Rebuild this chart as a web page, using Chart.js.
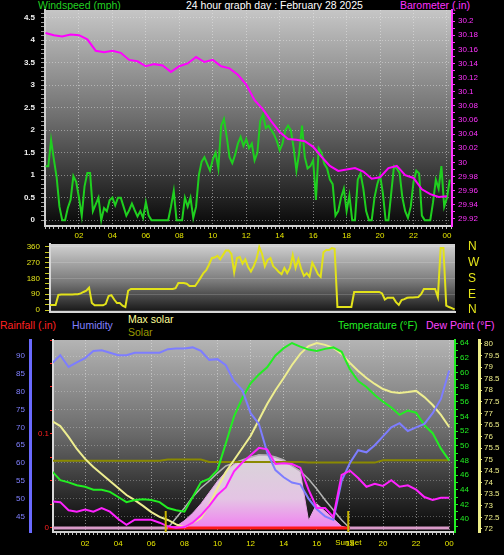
<!DOCTYPE html>
<html>
<head>
<meta charset="utf-8">
<script src="https://cdn.jsdelivr.net/npm/chart.js@4"></script>
<style>
html, body { margin: 0; padding: 0; background: #000; width: 504px; height: 555px; overflow: hidden; }
#wrap { position: relative; width: 504px; height: 555px; font-family: "Liberation Sans", Arial, sans-serif; }
canvas { position: absolute; left: 0; }
.t { position: absolute; font-size: 10.5px; line-height: 12px; white-space: nowrap; }
</style>
</head>
<body>
<div id="wrap">
  <span class="t" style="left:38px;top:-1px;color:#22d022">Windspeed (mph)</span>
  <span class="t" style="left:186px;top:-1px;color:#ffffff">24 hour graph day : February 28 2025</span>
  <span class="t" style="left:400px;top:-1px;color:#ff33ff">Barometer (.in)</span>
  <span class="t" style="left:0px;top:319px;color:#ff2020">Rainfall (.in)</span>
  <span class="t" style="left:72px;top:319px;color:#8080ff">Humidity</span>
  <span class="t" style="left:128px;top:313px;color:#ffff99">Max solar</span>
  <span class="t" style="left:128px;top:326px;color:#999900">Solar</span>
  <span class="t" style="left:338px;top:319px;color:#22ee22">Temperature (°F)</span>
  <span class="t" style="left:426px;top:319px;color:#ff44ff">Dew Point (°F)</span>
  <canvas id="c1" width="504" height="240" style="top:0px"></canvas>
  <canvas id="c2" width="504" height="78" style="top:240px"></canvas>
  <canvas id="c3" width="504" height="237" style="top:318px"></canvas>
</div>
<script>
// time stamps (hours of the day)
const hours10 = Array.from({length: 146}, (_, i) => i / 6);
const hours30 = Array.from({length: 49}, (_, i) => i / 2);

// top panel
const windSpeed = [1.2, 1.2, 1.78, 1.35, 0.95, 0.3, 0, 0, 0.27, 0.45,
  0.98, 0.85, 0.5, 0.1, 0.75, 1.05, 1.05, 0.2, 0.35, 0.5,
  0, 0.27, 0.2, 0.44, 0.5, 0.33, 0.5, 0.5, 0.3, 0.1,
  0.22, 0.37, 0.22, 0.08, 0.2, 0.05, 0.4, 0.1, 0, 0,
  0, 0, 0, 0, 0, 0.3, 0.65, 0, 0, 0,
  0.5, 0.3, 0.5, 0.05, 0.3, 1.0, 1.3, 1.4, 1.25, 1.1,
  1.35, 1.5, 1.15, 2.1, 2.25, 1.85, 1.4, 1.27, 1.45, 1.7,
  1.85, 1.65, 1.8, 1.6, 1.7, 1.33, 1.5, 2.2, 2.35, 2.05,
  2.1, 2.0, 1.9, 1.75, 1.55, 1.7, 2.0, 2.1, 2.0, 1.6,
  1.1, 1.5, 2.1, 1.4, 1.15, 1.2, 1.33, 0.45, 1.6, 1.5,
  1.25, 1.15, 0.9, 0.8, 0.1, 0.2, 0.5, 0.7, 0.2, 0.55,
  0, 0, 0.9, 1.04, 0.7, 0.2, 0, 0, 0.5, 0.8,
  1.0, 0.6, 0, 0, 0.6, 1.2, 1.15, 1.05, 0.5, 0.2,
  0.05, 0.3, 0.85, 1.1, 1.04, 0.1, 0, 0, 0, 0.4,
  0.9, 0.7, 1.2, 0.3, 0.5, 0.9];
const barometer = [30.183, 30.180, 30.178, 30.181, 30.180, 30.174, 30.158, 30.156, 30.158, 30.155,
  30.145, 30.143, 30.136, 30.139, 30.137, 30.128, 30.136, 30.140, 30.149, 30.142,
  30.145, 30.136, 30.133, 30.124, 30.110, 30.088, 30.075, 30.058, 30.043, 30.033,
  30.032, 30.030, 30.022, 30.008, 29.995, 29.988, 29.990, 29.992, 29.987, 29.977,
  29.979, 29.992, 29.995, 29.982, 29.978, 29.962, 29.955, 29.951, 29.952];

// middle panel
const windDir = [29, 29, 29, 86, 88, 88, 88, 88, 88, 90,
  90, 95, 103, 110, 128, 40, 27, 27, 27, 27,
  35, 80, 85, 60, 40, 40, 25, 17, 110, 120,
  120, 120, 120, 120, 120, 120, 120, 120, 120, 120,
  120, 120, 120, 120, 120, 125, 154, 154, 154, 150,
  137, 137, 137, 160, 185, 211, 228, 260, 297, 300,
  310, 290, 315, 340, 340, 320, 215, 297, 303, 265,
  290, 245, 220, 250, 290, 360, 320, 250, 286, 297,
  250, 235, 217, 205, 240, 211, 240, 314, 240, 290,
  235, 195, 210, 190, 270, 240, 205, 189, 330, 343,
  343, 354, 350, 17, 17, 17, 17, 17, 17, 103,
  103, 103, 103, 103, 103, 103, 103, 103, 103, 95,
  60, 70, 70, 70, 45, 29, 57, 62, 70, 72,
  72, 73, 74, 90, 120, 120, 120, 120, 120, 74,
  354, 354, 25, 17, 11, 3];
const compassTicks = [0, 90, 180, 270, 360];
const compassNames = ['N', 'E', 'S', 'W', 'N'];

// bottom panel
const humidity = [88, 90.3, 87, 88.3, 89.5, 91.5, 91.7, 91, 90.3, 90.3,
  91, 91, 91, 91, 92, 92.2, 92.2, 92.5, 91.5, 89,
  89.2, 87.5, 83, 80.5, 74, 71, 63, 58, 56, 54.5,
  54, 50, 47, 45, 44, 55, 60, 63.6, 63, 65,
  67.5, 70, 71.2, 69, 70, 71, 74, 78, 86];
const temperature = [46.5, 45.3, 45, 44.6, 44.4, 44, 44, 43.7, 43, 42.3,
  42.6, 42.7, 42.6, 42.3, 41.5, 41.2, 41, 43, 45, 45.5,
  46.7, 50.3, 54, 56.5, 58.5, 59.7, 60.7, 62.3, 63.3, 64,
  63.5, 63.1, 62.9, 63.2, 63.4, 62.8, 60.4, 58.8, 58, 56.9,
  56, 55.2, 54.2, 54.8, 54.5, 52.8, 51.7, 49.6, 48];
const dewPoint = [42.4, 42.3, 41.2, 41, 41.3, 41, 41.5, 41, 40, 39.2,
  39.9, 39.9, 39.9, 39.5, 39, 38.8, 38.9, 39.5, 40.5, 41.8,
  43.3, 44.3, 46.5, 47.7, 48.7, 49.7, 49.5, 47.5, 47.6, 47.5,
  47, 44, 41.5, 41.5, 40.3, 46, 46.6, 45.6, 44.4, 44.8,
  44.5, 45.3, 44.4, 44.6, 44, 43, 42.6, 42.9, 42.9];
const maxSolar = [76.67, 76.45, 75.98, 75.46, 75.03, 74.68, 74.38, 74.07, 73.77, 73.47,
  73.25, 73.0, 72.73, 72.52, 72.39, 72.2, 72.08, 72.26, 72.47, 73.04,
  73.77, 74.46, 74.98, 75.5, 76.02, 76.71, 77.4, 78.0, 78.53, 79.09,
  79.57, 79.91, 80.04, 79.96, 79.83, 79.57, 79.18, 78.83, 78.53, 78.27,
  78.05, 77.92, 77.88, 77.92, 77.97, 77.7, 77.36, 76.93, 76.41];
const solar = [74.95, 74.95, 74.95, 74.95, 74.95, 74.95, 74.95, 74.95, 74.95, 74.95,
  74.95, 74.95, 74.95, 74.95, 75.0, 75.0, 75.0, 75.0, 75.0, 74.9,
  74.9, 74.9, 74.9, 74.9, 74.9, 74.9, 74.9, 74.9, 74.9, 74.9,
  74.9, 74.87, 74.87, 74.87, 74.87, 74.87, 74.87, 74.87, 74.87, 74.87,
  74.97, 74.97, 74.97, 74.97, 74.97, 74.97, 74.97, 74.97, 74.97];
const solarCurve = [null, null, null, null, null, null, null, null, null, null,
  null, null, null, null, 1, 54, 108, 166, 214, 251,
  293, 331, 347, 363, 378, 389, 389, 378, 363, 331,
  304, 262, 208, 150, 97, 44, 0, null, null, null,
  null, null, null, null, null, null, null, null, null];
const solarRad = [null, null, null, null, null, null, null, null, null, null,
  null, null, null, null, 0, 10, 40, 80, 130, 190,
  250, 300, 340, 360, 375, 390, 385, 375, 360, 330,
  300, 40, 130, 90, 50, 10, 0, null, null, null,
  null, null, null, null, null, null, null, null, null];
const rainfall = [0, 0, 0, 0, 0, 0, 0, 0, 0, 0,
  0, 0, 0, 0, 0, 0, 0, 0, 0, 0,
  0, 0, 0, 0, 0, 0, 0, 0, 0, 0,
  0, 0, 0, 0, 0, 0, 0, 0, 0, 0,
  0, 0, 0, 0, 0, 0, 0, 0, 0];
const sunTimes = [6.87, 17.9];

// tick positions
const quarterTicks = Array.from({length: 98}, (_, i) => i / 4);
const windTicks = Array.from({length: 47}, (_, i) => i / 10);
const baroTicks = Array.from({length: 30}, (_, i) => +(29.92 + i / 100).toFixed(2));
const dirTicks = [0, 30, 60, 90, 120, 150, 180, 210, 240, 270, 300, 330, 360];
const humTicks = [45, 50, 55, 60, 65, 70, 75, 80, 85, 90];
const rainTicks = [0, 0.025, 0.05, 0.075, 0.1, 0.125, 0.15, 0.175, 0.2];
const tempTicks = Array.from({length: 26}, (_, i) => 39 + i);
const auxTicks = [72, 72.5, 73, 73.5, 74, 74.5, 75, 75.5, 76, 76.5, 77, 77.5, 78, 78.5, 79, 79.5, 80];

const pts = (xs, ys) => ys.map((v, i) => ({x: xs[i], y: v}));
const isStep = (v, s) => Math.abs(v / s - Math.round(v / s)) < 1e-6;
const isEvenHour = v => isStep(v, 2) && v > 0.5;
const hourLabel = v => isEvenHour(v) ? String(Math.round(v) % 24).padStart(2, '0') : '';
const setTicks = list => s => { s.ticks = list.filter(v => v >= s.min - 1e-9 && v <= s.max + 1e-9).map(value => ({value})); };
const fixW = w => s => { s.width = w; s.paddingTop = 0; s.paddingBottom = 0; };
const fixH = h => s => { s.height = h; s.paddingLeft = 0; s.paddingRight = 0; };

Chart.defaults.font.family = '"Liberation Sans", Arial, sans-serif';
Chart.defaults.font.size = 8;
Chart.defaults.animation = false;
Chart.defaults.responsive = false;
Chart.defaults.devicePixelRatio = 1;
Chart.defaults.plugins.legend.display = false;
Chart.defaults.plugins.tooltip.enabled = false;
Chart.defaults.elements.point.radius = 0;
Chart.defaults.elements.line.tension = 0;
Chart.defaults.elements.line.borderWidth = 2;

// grey gradient behind each plot area
Chart.register({
  id: 'plotBg',
  beforeDraw(chart, args, opts) {
    if (!opts.stops) return;
    const {ctx, chartArea: a} = chart;
    const g = ctx.createLinearGradient(0, a.top, 0, a.bottom);
    opts.stops.forEach(([p, c]) => g.addColorStop(p, c));
    ctx.save();
    ctx.fillStyle = g;
    ctx.fillRect(a.left, a.top, a.width, a.height);
    ctx.restore();
  }
});

function xAxis(min, max, h, pad) {
  return {
    type: 'linear', min, max,
    afterBuildTicks: setTicks(quarterTicks),
    ticks: {autoSkip: false, maxRotation: 0, color: '#e6e600', padding: pad, callback: hourLabel},
    grid: {color: c => c.tick && isEvenHour(c.tick.value) ? 'rgba(235,235,235,0.5)' : 'rgba(0,0,0,0)', tickColor: '#bdbdbd', tickLength: 3},
    border: {color: '#d0d0d0', width: 2, dash: [1, 2]},
    afterFit: fixH(h)
  };
}

new Chart(document.getElementById('c1'), {
  type: 'line',
  data: {datasets: [
    {data: pts(hours30, barometer), yAxisID: 'yBaro', borderColor: '#ff00ff'},
    {data: pts(hours10, windSpeed), yAxisID: 'yWind', borderColor: '#1fcf1f'}
  ]},
  options: {
    layout: {padding: {top: 10}},
    plugins: {plotBg: {stops: [[0, '#c6c6c6'], [0.5, '#6e6e6e'], [1, '#080808']]}},
    scales: {
      x: xAxis(-0.03, 24.3, 14, 2),
      yWind: {
        position: 'left', min: -0.13, max: 4.67,
        afterBuildTicks: setTicks(windTicks),
        ticks: {autoSkip: false, color: '#f0f0f0', font: {size: 8, weight: 'bold'}, padding: 6,
          callback: v => isStep(v, 0.5) ? String(+v.toFixed(1)) : ''},
        grid: {color: c => c.tick && isStep(c.tick.value, 0.5) ? 'rgba(235,235,235,0.45)' : 'rgba(0,0,0,0)', tickColor: '#9a9a9a', tickLength: 4},
        border: {color: '#d0d0d0', width: 2, dash: [1, 2]},
        afterFit: fixW(45)
      },
      yBaro: {
        position: 'right', min: 29.910, max: 30.2156,
        afterBuildTicks: setTicks(baroTicks),
        ticks: {autoSkip: false, color: '#ff33ff', padding: 3,
          callback: v => isStep(v, 0.02) ? String(+v.toFixed(2)) : ''},
        grid: {drawOnChartArea: false, tickColor: '#ff33ff', tickLength: 3},
        border: {color: '#ff33ff', width: 2},
        afterFit: fixW(52)
      }
    }
  }
});

new Chart(document.getElementById('c2'), {
  type: 'line',
  data: {datasets: [
    {data: pts(hours10, windDir), yAxisID: 'yDir', borderColor: '#e2e21a'}
  ]},
  options: {
    layout: {padding: {top: 4}},
    plugins: {plotBg: {stops: [[0, '#d2d2d2'], [0.55, '#7a7a7a'], [1, '#161616']]}},
    scales: {
      x: {type: 'linear', min: 0, max: 24.19, ticks: {display: false}, grid: {display: false},
        border: {color: '#d6d6d6', width: 2}, afterFit: fixH(6)},
      yDir: {
        position: 'left', min: -11.4, max: 377,
        afterBuildTicks: setTicks(dirTicks),
        ticks: {autoSkip: false, color: '#e2e21a', padding: 5, callback: v => v % 90 === 0 ? String(v) : ''},
        grid: {color: c => c.tick && c.tick.value % 90 === 0 ? 'rgba(255,255,255,0.16)' : 'rgba(0,0,0,0)', tickColor: '#c8c820', tickLength: 5},
        border: {color: '#d6d6d6', width: 2},
        afterFit: fixW(50)
      },
      yCompass: {
        position: 'right', min: -11.4, max: 377,
        afterBuildTicks: setTicks(compassTicks),
        ticks: {autoSkip: false, color: '#e6e61a', font: {size: 12}, padding: 5,
          callback: v => compassNames[compassTicks.indexOf(v)]},
        grid: {display: false},
        border: {display: false},
        afterFit: fixW(49)
      }
    }
  }
});

const solarFill = c => {
  const ch = c.chart;
  if (!ch.chartArea) return '#e8b0e8';
  const y = ch.scales.ySol;
  const g = ch.ctx.createLinearGradient(0, y.getPixelForValue(390), 0, y.getPixelForValue(0));
  g.addColorStop(0, '#d8d6d8');
  g.addColorStop(0.6, '#e4c4e4');
  g.addColorStop(1, '#f080f0');
  return g;
};

const sunMarks = {
  id: 'sunMarks',
  afterDatasetsDraw(chart) {
    const {ctx, chartArea: a, scales: {x}} = chart;
    ctx.save();
    ctx.strokeStyle = '#c8b400';
    ctx.lineWidth = 2;
    sunTimes.forEach(h => {
      const px = x.getPixelForValue(h);
      ctx.beginPath(); ctx.moveTo(px, a.bottom - 21); ctx.lineTo(px, a.bottom); ctx.stroke();
    });
    ctx.fillStyle = '#e6e600';
    ctx.font = '8px "Liberation Sans", Arial, sans-serif';
    ctx.textAlign = 'center';
    ctx.textBaseline = 'top';
    ctx.fillText('SunSet', x.getPixelForValue(sunTimes[1]), a.bottom + 7);
    ctx.restore();
  }
};

new Chart(document.getElementById('c3'), {
  type: 'line',
  data: {datasets: [
    {data: pts(hours30, dewPoint), yAxisID: 'yTemp', borderColor: '#ff22ff'},
    {data: pts(hours30, humidity), yAxisID: 'yHum', borderColor: '#7d7dff'},
    {data: pts(hours30, temperature), yAxisID: 'yTemp', borderColor: '#22ee22'},
    {data: pts(hours30, maxSolar), yAxisID: 'yAux', borderColor: '#eeee90'},
    {data: pts(hours30, solar), yAxisID: 'yAux', borderColor: '#8a8a00'},
    {data: pts(hours30, rainfall), yAxisID: 'yRain', borderWidth: 3, borderColor: '#ff1a1a',
      segment: {borderColor: c => c.p0.parsed.x >= sunTimes[0] && c.p1.parsed.x <= sunTimes[1] + 0.2 ? '#ff1a1a' : '#d89ac8'}},
    {data: pts(hours30, solarCurve), yAxisID: 'ySol', borderColor: '#b4b4b4', borderWidth: 1.5},
    {data: pts(hours30, solarRad), yAxisID: 'ySol', borderColor: '#e8a0e8', borderWidth: 1,
      fill: {value: 0}, backgroundColor: solarFill}
  ]},
  plugins: [sunMarks],
  options: {
    layout: {padding: {top: 22}},
    plugins: {plotBg: {stops: [[0, '#b4b4b4'], [0.5, '#686868'], [1, '#060606']]}},
    scales: {
      x: xAxis(0.06, 24.35, 23, 4),
      yHum: {
        position: 'left', weight: 2, min: 40.6, max: 94.58,
        afterBuildTicks: setTicks(humTicks),
        ticks: {autoSkip: false, color: '#8080ff', padding: 5},
        grid: {color: 'rgba(230,230,230,0.33)', drawTicks: false},
        border: {color: '#6a6aff', width: 3, dash: [1, 2]},
        afterFit: fixW(30)
      },
      yRain: {
        position: 'left', weight: 1, min: -0.00426, max: 0.2,
        afterBuildTicks: setTicks(rainTicks),
        ticks: {autoSkip: false, color: '#ff2020', padding: 1,
          callback: v => v === 0 ? '0' : (Math.abs(v - 0.1) < 1e-9 ? '0.1' : '')},
        grid: {drawOnChartArea: false, tickColor: '#ff2020', tickLength: 3},
        border: {color: '#d8d8d8', width: 2},
        afterFit: fixW(23)
      },
      yTemp: {
        position: 'right', weight: 1, min: 38.23, max: 64.41,
        afterBuildTicks: setTicks(tempTicks),
        ticks: {autoSkip: false, color: '#22ee22', padding: 2, callback: v => v % 2 === 0 ? String(v) : ''},
        grid: {drawOnChartArea: false, tickColor: '#22ee22', tickLength: 3},
        border: {color: '#22ee22', width: 2},
        afterFit: fixW(24)
      },
      yAux: {
        position: 'right', weight: 2, min: 71.87, max: 80.17,
        afterBuildTicks: setTicks(auxTicks),
        ticks: {autoSkip: false, color: '#eeee88', padding: 2, callback: v => String(v)},
        grid: {drawOnChartArea: false, tickColor: '#eeee88', tickLength: 3},
        border: {color: '#eeee88', width: 3},
        afterFit: fixW(25)
      },
      ySol: {display: false, min: -20, max: 1000}
    }
  }
});
</script>
</body>
</html>
